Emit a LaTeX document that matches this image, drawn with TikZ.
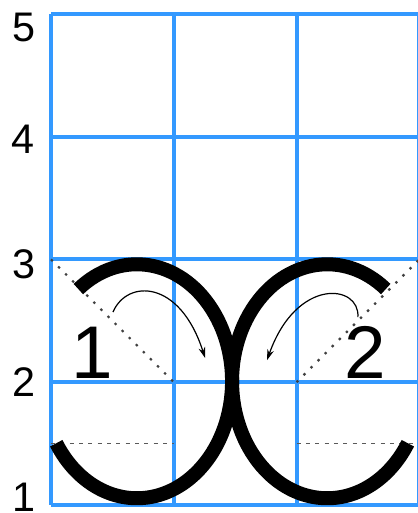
\documentclass[tikz,border=0pt]{standalone}
\usepackage{fontspec}
\setmainfont{Liberation Sans}
\usetikzlibrary{arrows.meta}

\definecolor{gridblue}{RGB}{51,153,255}

\begin{document}
\begin{tikzpicture}[x=92.06pt, y=92.06pt, >={Stealth[length=8pt,width=5pt]},
  every node/.style={inner sep=0pt},
  gridline/.style={gridblue, line width=3pt},
  letter/.style={line width=10.5pt},
  guide/.style={black!75, line width=1.6pt, dash pattern=on 1.8pt off 5.7pt},
  midline/.style={black!65, line width=1.3pt, dash pattern=on 3pt off 4pt},
  hint/.style={->, line width=0.9pt},
  axisnum/.style={font=\fontsize{31}{31}\selectfont},
  stepnum/.style={font=\fontsize{56}{56}\selectfont}]
  \useasboundingbox (-0.4155,-0.0652) rectangle (2.9817,4.1140);

  % Grid
  \draw[gridline] (0,0) grid[step=1] (3,4);

  % Row numbers
  \node[axisnum] (n1) at (-0.22,0.065) {1};
  \node[axisnum] (n2) at (-0.22,1.0) {2};
  \node[axisnum] (n3) at (-0.22,1.963) {3};
  \node[axisnum] (n4) at (-0.232,2.98) {4};
  \node[axisnum] (n5) at (-0.22,3.886) {5};

  % Guide lines
  \draw[guide] (0,2) -- (1,1);
  \draw[guide] (2,1) -- (3,2);
  \draw[midline] (0,0.5) -- (1,0.5);
  \draw[midline] (2,0.5) -- (3,0.5);

  % The two strokes
  \coordinate (lc) at (0.70,1.008);
  \coordinate (rc) at (2.25,1.008);
  \draw[letter] ([shift={(128:0.775 and 0.953)}]lc)
    arc[start angle=128, end angle=-148, x radius=0.775, y radius=0.953];
  \draw[letter] ([shift={(52:0.775 and 0.953)}]rc)
    arc[start angle=52, end angle=328, x radius=0.775, y radius=0.953];

  % Stroke order
  \node[stepnum] (s1) at (0.334,1.238) {1};
  \node[stepnum] (s2) at (2.558,1.242) {2};
  \coordinate (a1s) at (0.505,1.572);
  \coordinate (a1e) at (1.255,1.198);
  \coordinate (a2s) at (2.50,1.53);
  \coordinate (a2e) at (1.76,1.18);
  \draw[hint] (a1s) .. controls (0.62,1.84) and (1.05,1.84) .. (a1e);
  \draw[hint] (a2s) .. controls (2.52,1.80) and (2.0,1.86) .. (a2e);
\end{tikzpicture}
\end{document}
